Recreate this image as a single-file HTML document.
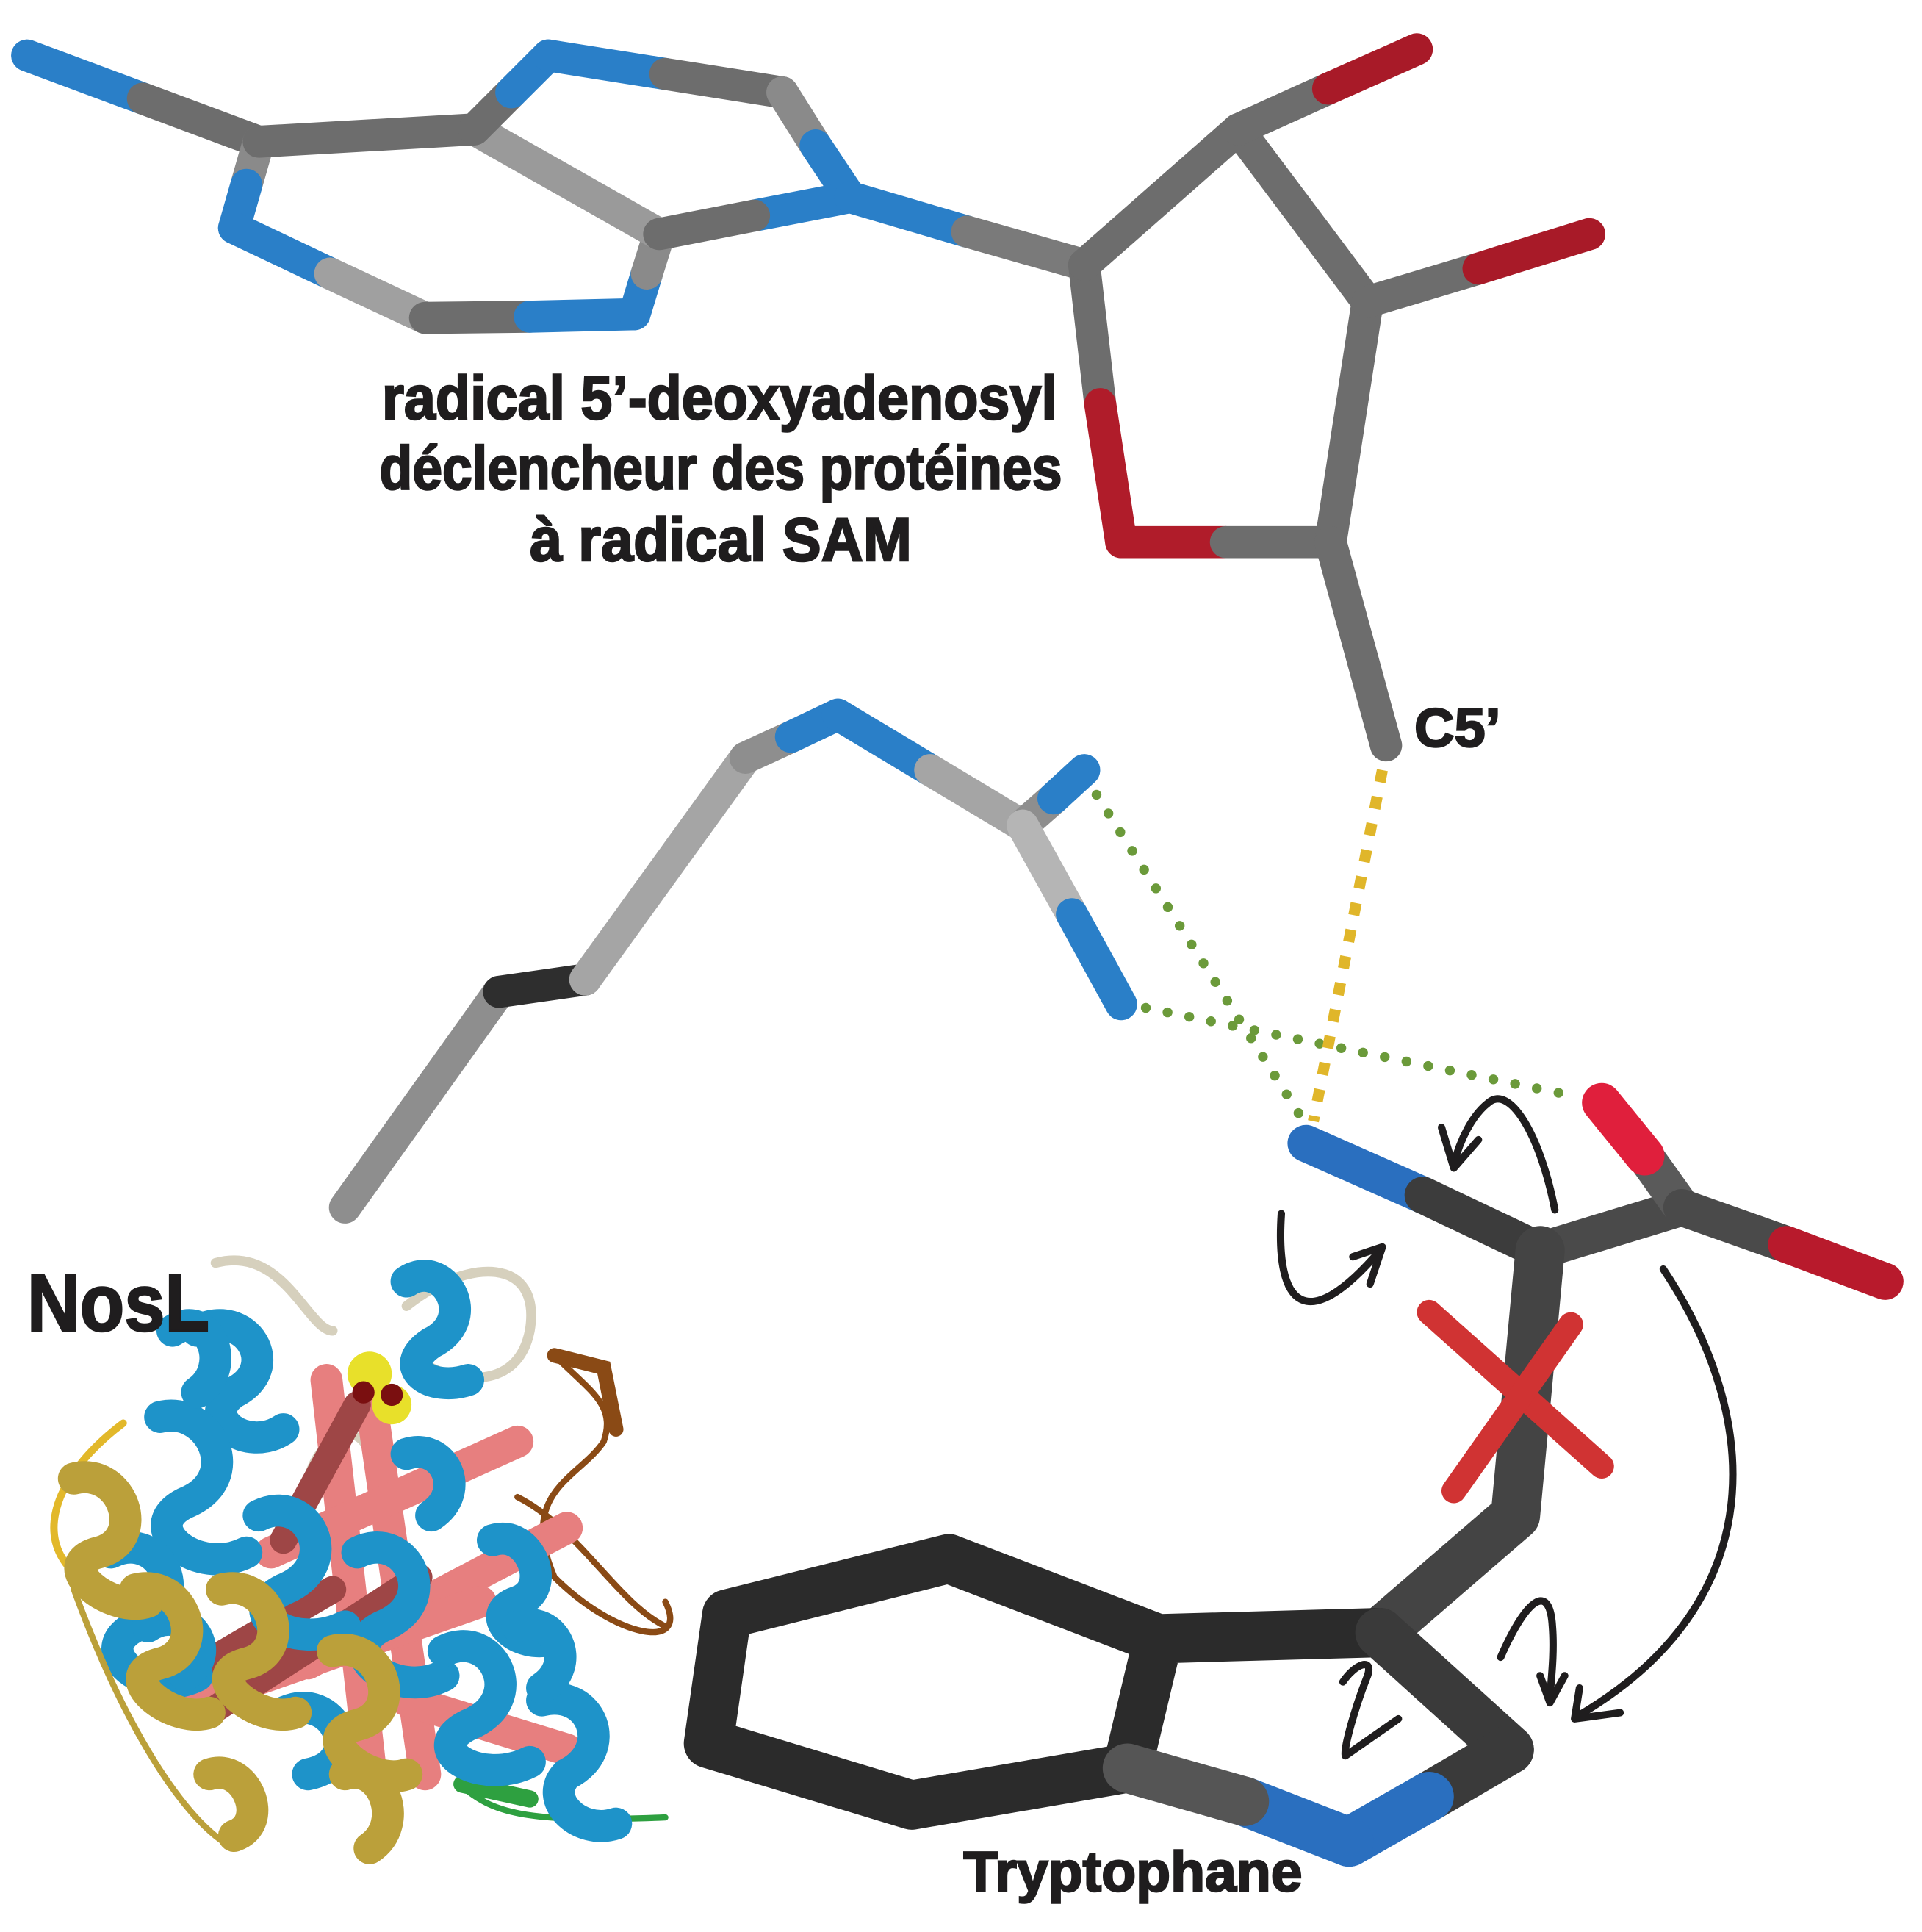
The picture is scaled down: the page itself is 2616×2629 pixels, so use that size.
<!DOCTYPE html>
<html><head><meta charset="utf-8"><style>html,body{margin:0;padding:0;background:#fff}svg{display:block}</style></head>
<body>
<svg width="2616" height="2629" viewBox="0 0 1560 1568" preserveAspectRatio="none" xmlns="http://www.w3.org/2000/svg">
<defs>
<style>
.b{fill:none;stroke-linecap:round;stroke-width:26}
.t{fill:none;stroke-linecap:round;stroke-linejoin:round;stroke-width:40}
.a{fill:none;stroke:#1f1d1e;stroke-width:6;stroke-linecap:round;stroke-linejoin:round}
.tx{font-family:"Liberation Sans",sans-serif;font-weight:bold;fill:#1f1d1e;stroke:#1f1d1e;stroke-width:1.5}
</style>
</defs>
<rect width="1560" height="1568" fill="#fff"/>

<!-- protein (approximate cartoon) -->
<g stroke-linecap="round" fill="none">
<path d="M175,1025 C230,1010 250,1080 270,1080" stroke="#d6d0bd" stroke-width="8"/>
<path d="M330,1060 C380,1020 440,1020 430,1080 C420,1130 370,1120 350,1110" stroke="#d6d0bd" stroke-width="8"/>
<path d="M250,1200 C260,1160 300,1150 300,1190" stroke="#d6d0bd" stroke-width="7"/>
<path d="M100,1155 C40,1200 20,1260 80,1290" stroke="#e2b82a" stroke-width="6"/>
<path d="M450,1100 C480,1130 500,1140 490,1170 C470,1200 420,1210 450,1280 C500,1330 560,1340 540,1300" stroke="#8a4a15" stroke-width="5"/>
<path d="M420,1215 C470,1240 500,1300 540,1320" stroke="#8a4a15" stroke-width="5"/>
<path d="M450,1100 L490,1110 L500,1160" stroke="#8a4a15" stroke-width="12"/>
<path d="M375,1450 C400,1470 420,1480 540,1475" stroke="#2ea040" stroke-width="5"/>
<path d="M375,1448 L430,1460" stroke="#2ea040" stroke-width="14"/>
<g stroke="#e77f7f" stroke-width="26">
<path d="M265,1120 L300,1430"/><path d="M300,1130 L345,1440"/><path d="M220,1260 L420,1170"/>
<path d="M250,1350 L460,1240"/><path d="M160,1380 L390,1300"/><path d="M330,1380 L460,1420"/>
</g>
<g stroke="#9e4646" stroke-width="22">
<path d="M230,1250 L290,1140"/><path d="M170,1390 L340,1280"/><path d="M150,1360 L270,1290"/>
</g>
<g stroke="#1e93c9" stroke-width="26">
<path d="M160,1080 C200,1060 230,1110 190,1130 C160,1150 200,1180 230,1160"/>
<path d="M130,1150 C170,1140 200,1200 150,1220 C110,1240 160,1280 200,1260"/>
<path d="M90,1260 C130,1240 160,1300 110,1320 C70,1340 120,1380 160,1360"/>
<path d="M210,1230 C250,1210 280,1270 230,1290 C190,1310 240,1340 280,1320"/>
<path d="M330,1040 C360,1020 390,1070 350,1090 C320,1110 350,1130 380,1120"/>
<path d="M290,1260 C330,1240 360,1300 310,1320 C270,1340 320,1380 360,1360"/>
<path d="M360,1340 C400,1320 430,1380 380,1400 C340,1420 390,1450 430,1430"/>
<path d="M440,1380 C480,1370 500,1420 460,1440 C440,1460 470,1490 500,1480"/>
<path d="M230,1390 C270,1370 300,1430 250,1440"/>
<path d="M140,1080 C170,1060 190,1110 160,1130"/>
<path d="M120,1320 C150,1300 180,1340 150,1360"/>
<path d="M400,1250 C430,1240 450,1290 420,1300 C390,1310 420,1340 450,1330"/>
<path d="M330,1180 C360,1170 380,1210 350,1230"/>
<path d="M420,1320 C450,1310 470,1350 440,1370"/>
</g>
<g stroke="#bba03a" stroke-width="26">
<path d="M60,1200 C100,1190 120,1250 80,1260 C40,1270 90,1310 120,1300"/>
<path d="M110,1290 C150,1280 170,1340 130,1350 C90,1360 140,1400 170,1390"/>
<path d="M180,1290 C220,1280 240,1340 200,1350 C160,1360 210,1400 240,1390"/>
<path d="M270,1340 C310,1330 330,1390 290,1400 C250,1410 300,1450 330,1440"/>
<path d="M170,1440 C200,1430 220,1480 190,1490"/>
<path d="M280,1440 C310,1430 330,1480 300,1500"/>
</g>
<path d="M60,1290 C100,1400 150,1480 190,1500" stroke="#bba03a" stroke-width="5"/>
<circle cx="300" cy="1115" r="18" fill="#e8e02a"/>
<circle cx="318" cy="1140" r="16" fill="#e8e02a"/>
<circle cx="295" cy="1130" r="9" fill="#7a0f10"/><circle cx="318" cy="1132" r="9" fill="#7a0f10"/>
</g>

<!-- adenosine -->
<g class="b">
<line x1="22" y1="45" x2="116" y2="80" stroke="#2a7fc8"/><line x1="116" y1="80" x2="210" y2="115" stroke="#6d6d6d"/>
<line x1="210" y1="115" x2="200" y2="150" stroke="#8a8a8a"/><line x1="200" y1="150" x2="190" y2="185" stroke="#2a7fc8"/>
<line x1="190" y1="185" x2="268" y2="222" stroke="#2a7fc8"/><line x1="268" y1="222" x2="345" y2="258" stroke="#a0a0a0"/>
<line x1="345" y1="258" x2="430" y2="257" stroke="#6d6d6d"/><line x1="430" y1="257" x2="515" y2="255" stroke="#2a7fc8"/>
<line x1="515" y1="255" x2="525" y2="222" stroke="#2a7fc8"/><line x1="525" y1="222" x2="535" y2="190" stroke="#8a8a8a"/>
<line x1="535" y1="190" x2="385" y2="105" stroke="#9a9a9a"/>
<line x1="385" y1="105" x2="210" y2="115" stroke="#6d6d6d"/>
<line x1="385" y1="105" x2="415" y2="75" stroke="#6d6d6d"/><line x1="415" y1="75" x2="445" y2="45" stroke="#2a7fc8"/>
<line x1="445" y1="45" x2="540" y2="60" stroke="#2a7fc8"/><line x1="540" y1="60" x2="635" y2="75" stroke="#6d6d6d"/>
<line x1="635" y1="75" x2="662" y2="118" stroke="#8a8a8a"/><line x1="662" y1="118" x2="690" y2="160" stroke="#2a7fc8"/>
<line x1="690" y1="160" x2="612" y2="175" stroke="#2a7fc8"/><line x1="612" y1="175" x2="535" y2="190" stroke="#6d6d6d"/>
<line x1="690" y1="160" x2="785" y2="188" stroke="#2a7fc8"/><line x1="785" y1="188" x2="880" y2="215" stroke="#7a7a7a"/>
<line x1="880" y1="215" x2="893" y2="328" stroke="#6d6d6d"/><line x1="893" y1="328" x2="910" y2="440" stroke="#b01c2a"/>
<line x1="910" y1="440" x2="995" y2="440" stroke="#b01c2a"/><line x1="995" y1="440" x2="1080" y2="440" stroke="#6d6d6d"/>
<line x1="1080" y1="440" x2="1110" y2="245" stroke="#6d6d6d"/>
<line x1="1110" y1="245" x2="1005" y2="105" stroke="#6d6d6d"/>
<line x1="1005" y1="105" x2="880" y2="215" stroke="#6d6d6d"/>
<line x1="1005" y1="105" x2="1078" y2="72" stroke="#6d6d6d"/><line x1="1078" y1="72" x2="1150" y2="40" stroke="#a81a28"/>
<line x1="1110" y1="245" x2="1200" y2="218" stroke="#6d6d6d"/><line x1="1200" y1="218" x2="1290" y2="190" stroke="#a81a28"/>
<line x1="1080" y1="440" x2="1125" y2="605" stroke="#6d6d6d"/>
</g>

<!-- arginine -->
<g class="b">
<line x1="280" y1="980" x2="405" y2="805" stroke="#8e8e8e"/>
<line x1="405" y1="805" x2="475" y2="795" stroke="#2e2e2e"/>
<line x1="475" y1="795" x2="605" y2="615" stroke="#a5a5a5"/>
<line x1="605" y1="615" x2="642" y2="598" stroke="#8e8e8e"/><line x1="642" y1="598" x2="680" y2="580" stroke="#2a7fc8"/>
<line x1="680" y1="580" x2="755" y2="625" stroke="#2a7fc8"/><line x1="755" y1="625" x2="830" y2="670" stroke="#a5a5a5"/>
<line x1="830" y1="670" x2="855" y2="648" stroke="#8e8e8e"/><line x1="855" y1="648" x2="880" y2="625" stroke="#2a7fc8"/>
<line x1="830" y1="670" x2="870" y2="742" stroke="#b5b5b5"/><line x1="870" y1="742" x2="910" y2="815" stroke="#2a7fc8"/>
</g>

<g fill="none" stroke-linecap="round">
<line x1="890" y1="645" x2="1055" y2="905" stroke="#6b9a3a" stroke-width="8" stroke-dasharray="0 18"/>
<line x1="930" y1="818" x2="1280" y2="890" stroke="#6b9a3a" stroke-width="8" stroke-dasharray="0 18"/>
<line x1="1122" y1="625" x2="1066" y2="910" stroke="#e0b62a" stroke-width="9" stroke-dasharray="10 12" stroke-linecap="butt"/>
</g>

<!-- tryptophan -->
<g class="t">
<line x1="1060" y1="928" x2="1155" y2="970" stroke="#2a6fbf" stroke-width="30"/>
<line x1="1155" y1="970" x2="1250" y2="1015" stroke="#3c3c3c" stroke-width="30"/>
<line x1="1250" y1="1015" x2="1365" y2="980" stroke="#4a4a4a" stroke-width="30"/>
<line x1="1365" y1="980" x2="1335" y2="938" stroke="#5a5a5a" stroke-width="30"/>
<line x1="1335" y1="938" x2="1300" y2="895" stroke="#e01f3c" stroke-width="32"/>
<line x1="1365" y1="980" x2="1450" y2="1010" stroke="#4a4a4a" stroke-width="30"/>
<line x1="1450" y1="1010" x2="1530" y2="1040" stroke="#b81a2c" stroke-width="30"/>
<polyline points="1250,1015 1230,1230 1120,1325" stroke="#444"/>
<polyline points="1120,1325 940,1330 770,1265 590,1310 575,1415 740,1465 915,1435 940,1330" stroke="#2b2b2b"/>
<line x1="1120" y1="1325" x2="1225" y2="1420" stroke="#3a3a3a"/>
<line x1="1225" y1="1420" x2="1160" y2="1458" stroke="#3a3a3a"/>
<line x1="1160" y1="1458" x2="1095" y2="1495" stroke="#2a6fbf"/>
<line x1="1095" y1="1495" x2="1010" y2="1462" stroke="#2a6fbf"/>
<line x1="1010" y1="1462" x2="915" y2="1435" stroke="#555"/>
</g>

<g stroke="#d03333" stroke-linecap="round" stroke-width="20">
<line x1="1160" y1="1065" x2="1300" y2="1190"/>
<line x1="1275" y1="1075" x2="1180" y2="1210"/>
</g>

<path class="a" d="M1262,982 C1250,920 1225,880 1208,895 C1195,905 1185,925 1180,945"/>
<path class="a" d="M1170,915 L1180,948 L1200,925"/>
<path class="a" d="M1040,985 C1035,1060 1060,1085 1120,1015"/>
<path class="a" d="M1098,1020 L1122,1012 L1112,1042"/>
<path class="a" d="M1350,1030 C1430,1150 1440,1300 1280,1393"/>
<path class="a" d="M1282,1370 L1278,1395 L1315,1390"/>
<path class="a" d="M1218,1345 C1240,1295 1258,1285 1260,1320 C1262,1345 1258,1370 1258,1380 M1250,1360 L1258,1382 L1270,1360"/>
<path class="a" d="M1090,1365 C1100,1350 1115,1345 1110,1360 C1100,1385 1090,1420 1092,1425 L1135,1395"/>

<text class="tx" x="310" y="340" font-size="50" textLength="548" lengthAdjust="spacingAndGlyphs">radical 5’-deoxyadenosyl</text>
<text class="tx" x="308" y="397" font-size="50" textLength="554" lengthAdjust="spacingAndGlyphs">déclencheur des protéines</text>
<text class="tx" x="430" y="455" font-size="50" textLength="310" lengthAdjust="spacingAndGlyphs">à radical SAM</text>
<text class="tx" x="1148" y="606" font-size="44" textLength="70" lengthAdjust="spacingAndGlyphs">C5’</text>
<text class="tx" x="22" y="1080" font-size="66" textLength="148" lengthAdjust="spacingAndGlyphs">NosL</text>
<text class="tx" x="782" y="1535" font-size="46" textLength="275" lengthAdjust="spacingAndGlyphs">Tryptophane</text>
</svg>
</body></html>
